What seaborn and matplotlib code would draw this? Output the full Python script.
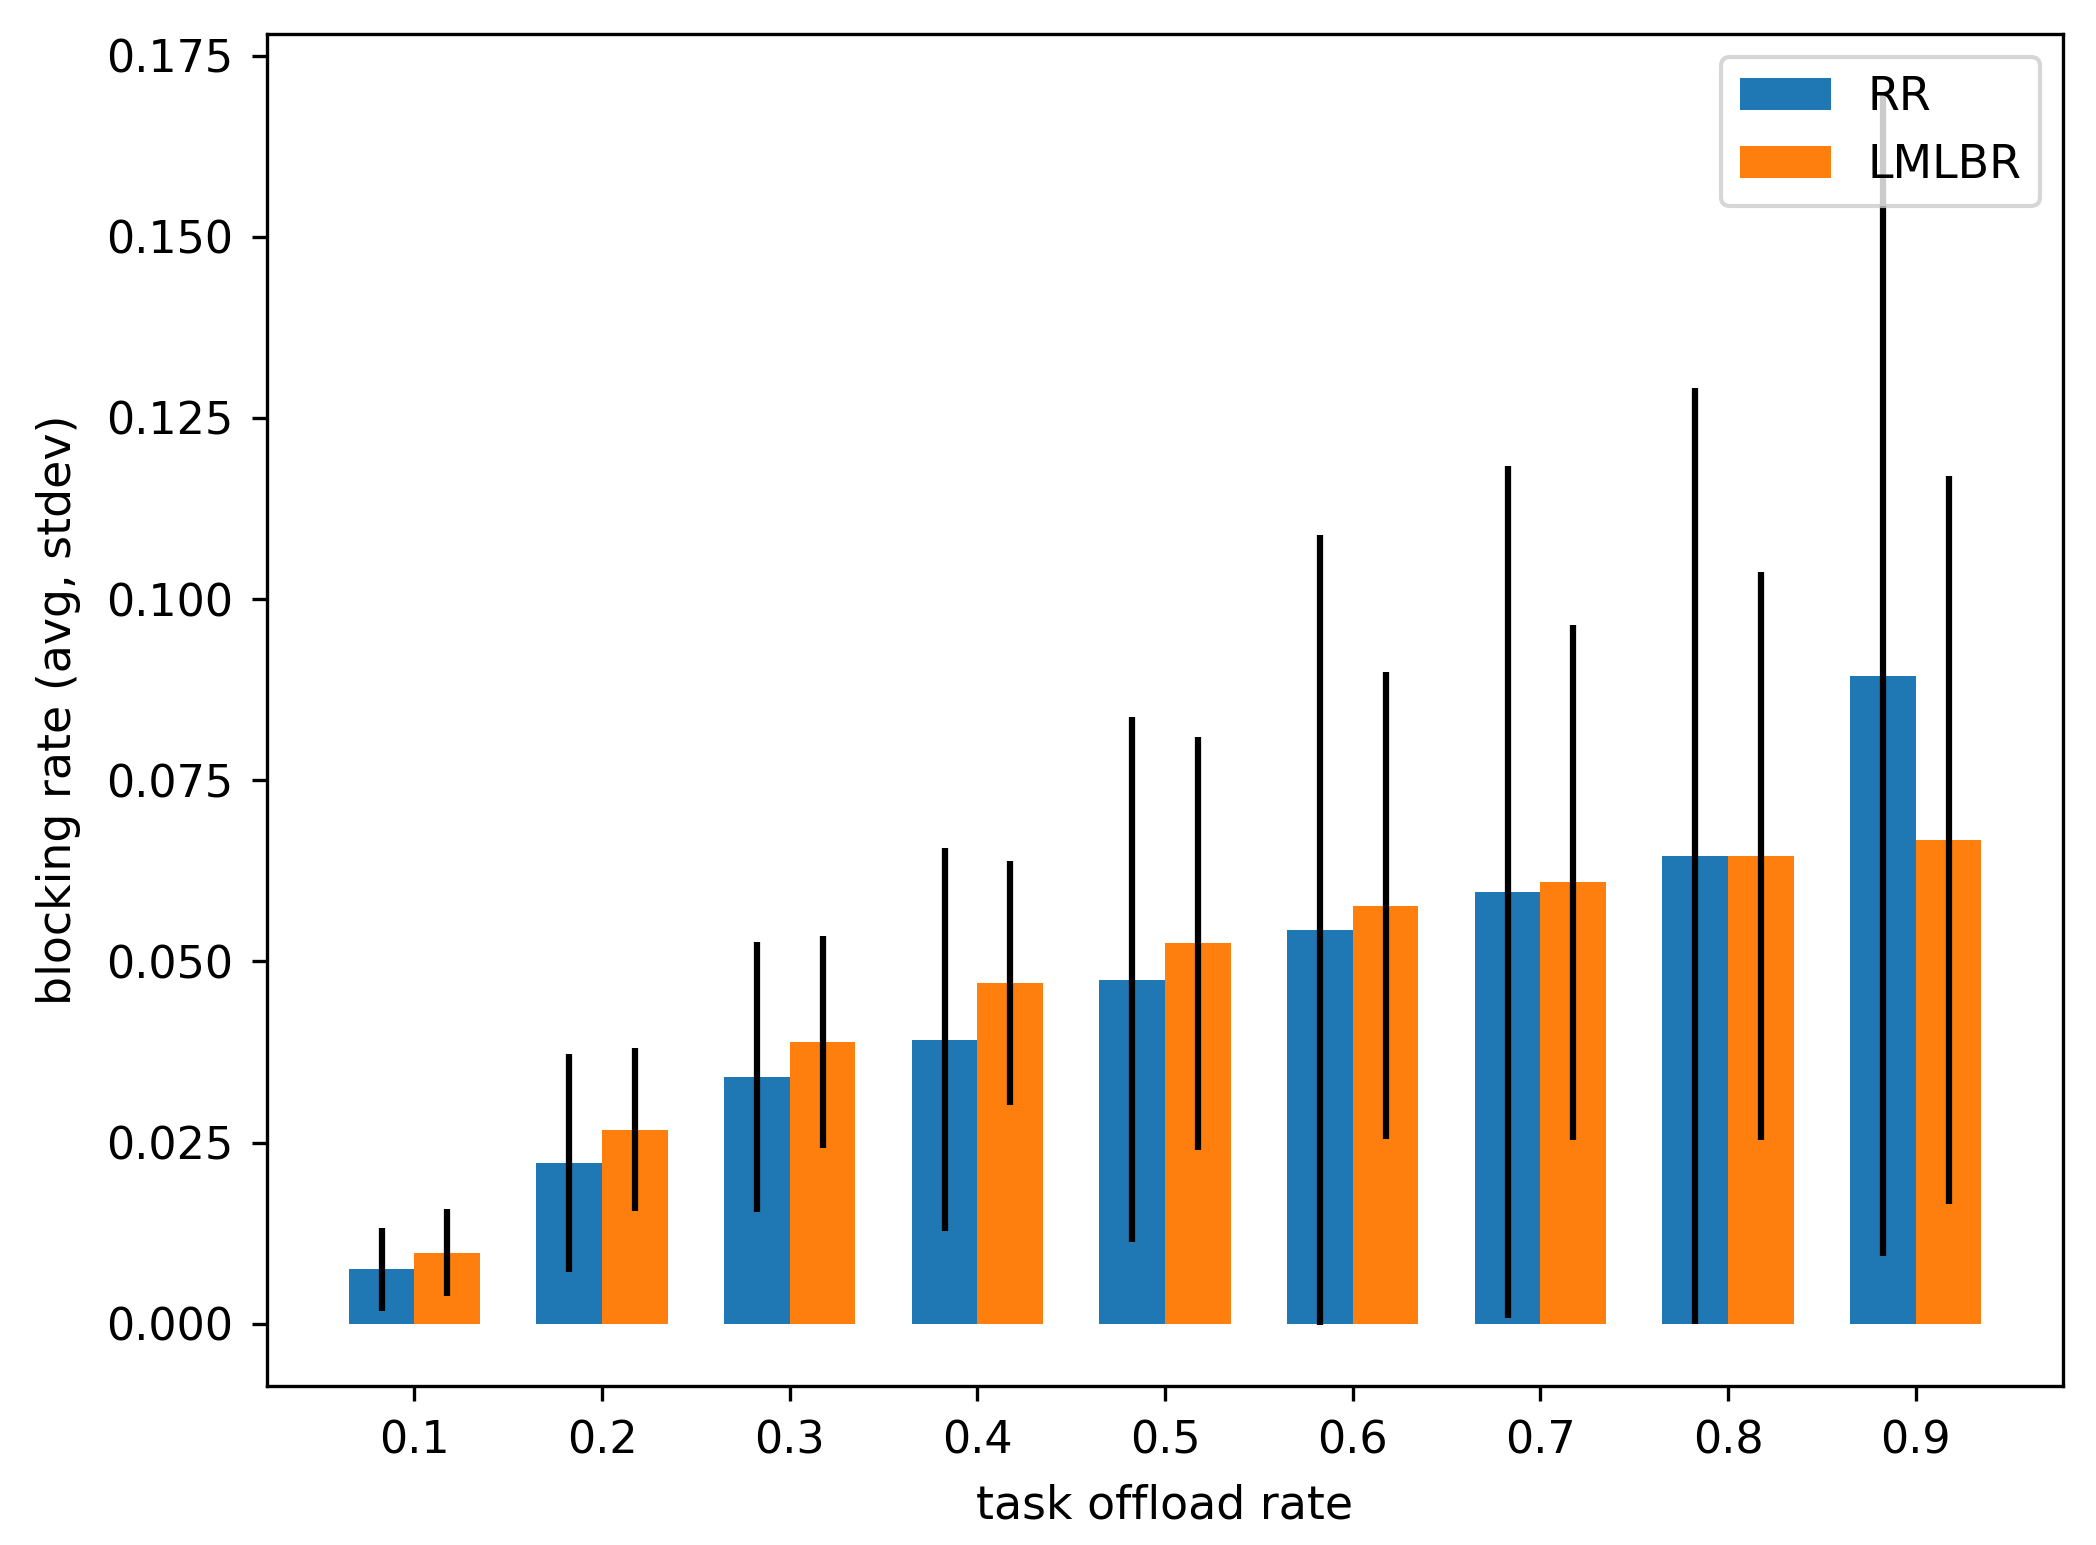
import numpy as np
import pandas as pd
import matplotlib
matplotlib.use("Agg")
import matplotlib.pyplot as plt
import seaborn as sns

rates = [0.1, 0.2, 0.3, 0.4, 0.5, 0.6, 0.7, 0.8, 0.9]
methods = ["RR", "LMLBR"]
rr_mean = [0.0075, 0.0222, 0.0341, 0.0392, 0.0475, 0.0544, 0.0596, 0.0646, 0.0894]
rr_std = [0.0057, 0.0150, 0.0186, 0.0264, 0.0362, 0.0545, 0.0588, 0.0646, 0.0801]
lm_mean = [0.0098, 0.0268, 0.0389, 0.0470, 0.0525, 0.0577, 0.0609, 0.0646, 0.0668]
lm_std = [0.0060, 0.0112, 0.0146, 0.0168, 0.0285, 0.0322, 0.0355, 0.0392, 0.0502]
colors = ["#1f77b4", "#ff7f0e"]

df = pd.DataFrame({
    "rate": rates * 2,
    "method": ["RR"] * len(rates) + ["LMLBR"] * len(rates),
    "mean": rr_mean + lm_mean,
    "std": rr_std + lm_std,
})

fig = plt.figure(figsize=(2096 / 300, 1545 / 300), dpi=300)
ax = fig.add_axes([0.1274, 0.1029, 0.9843 - 0.1274, 0.978 - 0.1029])

sns.barplot(data=df, x="rate", y="mean", hue="method", hue_order=methods,
            native_scale=True, width=0.7, errorbar=None, palette=colors,
            saturation=1, linewidth=0, ax=ax)

for cont, m in zip(ax.containers, methods):
    sub = df[df["method"] == m]
    xs = [b.get_x() + b.get_width() / 2 for b in cont]
    ax.errorbar(xs, sub["mean"].values, yerr=sub["std"].values, fmt="none",
                ecolor="black", elinewidth=1.5, zorder=3)

ax.set_xticks(rates)
ax.set_xticklabels([str(r) for r in rates])
ax.set_xlabel("task offload rate", fontsize=11, labelpad=5)
ax.set_ylabel("blocking rate (avg, stdev)", fontsize=11, labelpad=6)
yt = np.arange(0, 0.176, 0.025)
ax.set_yticks(yt)
ax.set_yticklabels([f"{v:.3f}" for v in yt])
ax.tick_params(labelsize=10.7, pad=4.5)
ax.margins(x=0.05, y=0.05)

handles, labels = ax.get_legend_handles_labels()
ax.legend(handles[:2], labels[:2], loc="upper right", fontsize=11)

fig.savefig("out.png", dpi=300)
